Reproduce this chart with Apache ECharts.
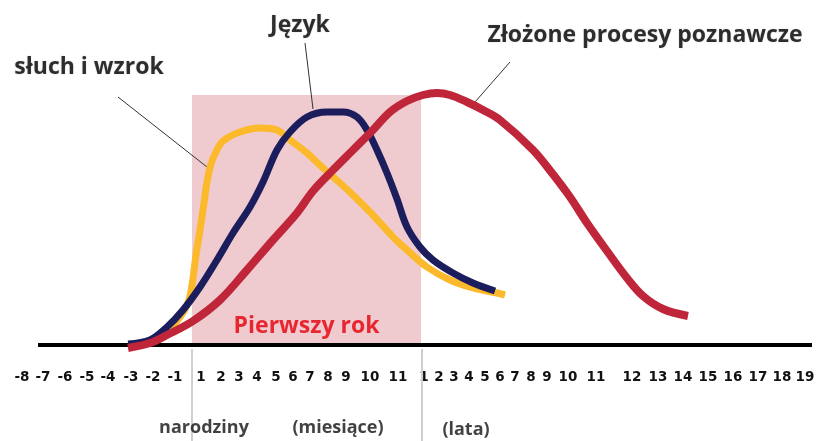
<!DOCTYPE html>
<html>
<head>
<meta charset="utf-8">
<script src="https://cdn.jsdelivr.net/npm/echarts@6/dist/echarts.min.js"></script>
<style>
  html, body { margin: 0; padding: 0; background: #fff; }
  #chart { width: 816px; height: 441px; }
</style>
</head>
<body>
<div id="chart"></div>
<script>
// x axis: position along the time line, y axis: level of development
const tickLabels = ['-8', '-7', '-6', '-5', '-4', '-3', '-2', '-1',
  '1', '2', '3', '4', '5', '6', '7', '8', '9', '10', '11',
  '1', '2', '3', '4', '5', '6', '7', '8', '9', '10', '11', '12', '13', '14', '15', '16', '17', '18', '19']
const tickPos = [22, 43, 65, 87, 108, 131, 153, 175,
  201, 221, 239, 257, 276, 293, 310, 328, 346, 370, 398,
  424, 439, 454, 469, 485, 500, 515, 531, 547, 568, 596, 632, 658, 683, 708, 733, 758, 782, 805]

const sluchWzrok = [[140, 1], [165, 12], [180, 28], [188, 42], [192, 60], [196, 90], [200, 115],
  [204, 142], [207, 163], [211, 181], [216, 193], [223, 204], [240, 213], [260, 217], [277, 215],
  [290, 205], [307, 192], [323, 177], [340, 162], [355, 148], [370, 133], [383, 119], [395, 106],
  [407, 95], [427, 78], [450, 65], [473, 57], [497, 52], [505, 50]]
const jezyk = [[128, 1], [150, 5], [167, 18], [183, 35], [200, 58], [217, 85], [233, 112],
  [250, 138], [263, 163], [277, 195], [290, 213], [307, 228], [327, 233], [343, 233], [357, 228],
  [367, 215], [377, 195], [387, 172], [397, 146], [407, 118], [420, 98], [433, 85], [453, 72],
  [473, 62], [495, 54]]
const procesy = [[128, -3], [150, 2], [167, 10], [193, 24], [220, 45], [247, 75], [273, 105],
  [297, 132], [313, 154], [333, 175], [353, 195], [373, 215], [390, 233], [407, 244], [423, 250],
  [437, 252], [450, 250], [467, 243], [483, 235], [500, 225], [533, 195], [552, 172], [570, 148],
  [587, 122], [607, 94], [627, 67], [643, 49], [663, 36], [688, 29]]

const firstYear = [192, 421]
const birthMarks = [192, 422]

const chart = echarts.init(document.getElementById('chart'))
const textFont = '"Open Sans", "DejaVu Sans", sans-serif'

function curve(name, data, color, width) {
  return {
    name: name,
    type: 'line',
    data: data,
    smooth: 0.35,
    symbol: 'none',
    clip: false,
    lineStyle: { color: color, width: width, cap: 'butt' },
    z: 5,
  }
}

chart.setOption({
  animation: false,
  grid: { left: 0, right: 0, top: 0, bottom: 0, containLabel: false, outerBoundsMode: 'none' },
  xAxis: {
    type: 'value',
    min: 0,
    max: 816,
    position: 'bottom',
    offset: -96,
    splitLine: { show: false },
    axisTick: { show: false },
    axisLine: { show: false, onZero: false },
    axisLabel: {
      customValues: tickPos,
      margin: 25,
      color: '#111',
      fontWeight: 'bold',
      fontSize: 13.5,
      fontFamily: '"DejaVu Sans", sans-serif',
      formatter: (v) => tickLabels[tickPos.indexOf(v)],
    },
  },
  yAxis: {
    type: 'value',
    min: -96,
    max: 345,
    show: false,
    splitLine: { show: false },
  },
  series: [
    {
      name: 'oś',
      type: 'line',
      data: [[38, 0], [812, 0]],
      symbol: 'none',
      lineStyle: { color: '#000', width: 4 },
      z: 3,
      markArea: {
        silent: true,
        itemStyle: { color: '#efcbcf' },
        label: {
          show: true,
          position: 'insideBottom',
          distance: 7,
          color: '#e8262f',
          fontWeight: 'bold',
          fontSize: 23,
          fontFamily: textFont,
        },
        data: [[{ name: 'Pierwszy rok', xAxis: firstYear[0], yAxis: 0 }, { xAxis: firstYear[1], yAxis: 250 }]],
      },
    },
    {
      type: 'lines',
      coordinateSystem: 'cartesian2d',
      silent: true,
      clip: false,
      lineStyle: { color: '#cfcfcf', width: 2, opacity: 1 },
      data: birthMarks.map((x) => ({ coords: [[x, -4], [x, -96]] })),
      z: 2,
    },
    curve('słuch i wzrok', sluchWzrok, '#fbb92b', 7),
    curve('Język', jezyk, '#1c1d5d', 7),
    curve('Złożone procesy poznawcze', procesy, '#c0263a', 8),
    {
      type: 'lines',
      coordinateSystem: 'cartesian2d',
      silent: true,
      lineStyle: { color: '#333', width: 1, opacity: 1 },
      data: [
        { coords: [[118, 248], [207, 178]] },
        { coords: [[305, 302], [313, 236]] },
        { coords: [[510, 283], [475, 243]] },
      ],
      z: 4,
    },
    {
      type: 'scatter',
      symbolSize: 0,
      silent: true,
      clip: false,
      label: {
        show: true,
        position: 'inside',
        formatter: '{b}',
        color: '#000',
        fontWeight: 'bold',
        fontSize: 23,
        fontFamily: textFont,
        textShadowColor: 'rgba(0,0,0,0.2)',
        textShadowBlur: 2,
      },
      data: [
        { name: 'słuch i wzrok', value: [89, 278] },
        { name: 'Język', value: [300, 320] },
        { name: 'Złożone procesy poznawcze', value: [645, 310] },
      ],
      z: 6,
    },
    {
      type: 'scatter',
      symbolSize: 0,
      silent: true,
      clip: false,
      label: {
        show: true,
        position: 'inside',
        formatter: '{b}',
        color: '#111',
        fontWeight: 'bold',
        fontSize: 18,
        fontFamily: textFont,
      },
      data: [
        { name: 'narodziny', value: [204, -83] },
        { name: '(miesiące)', value: [338, -83] },
        { name: '(lata)', value: [466, -85] },
      ],
      z: 6,
    },
  ],
})
</script>
</body>
</html>
